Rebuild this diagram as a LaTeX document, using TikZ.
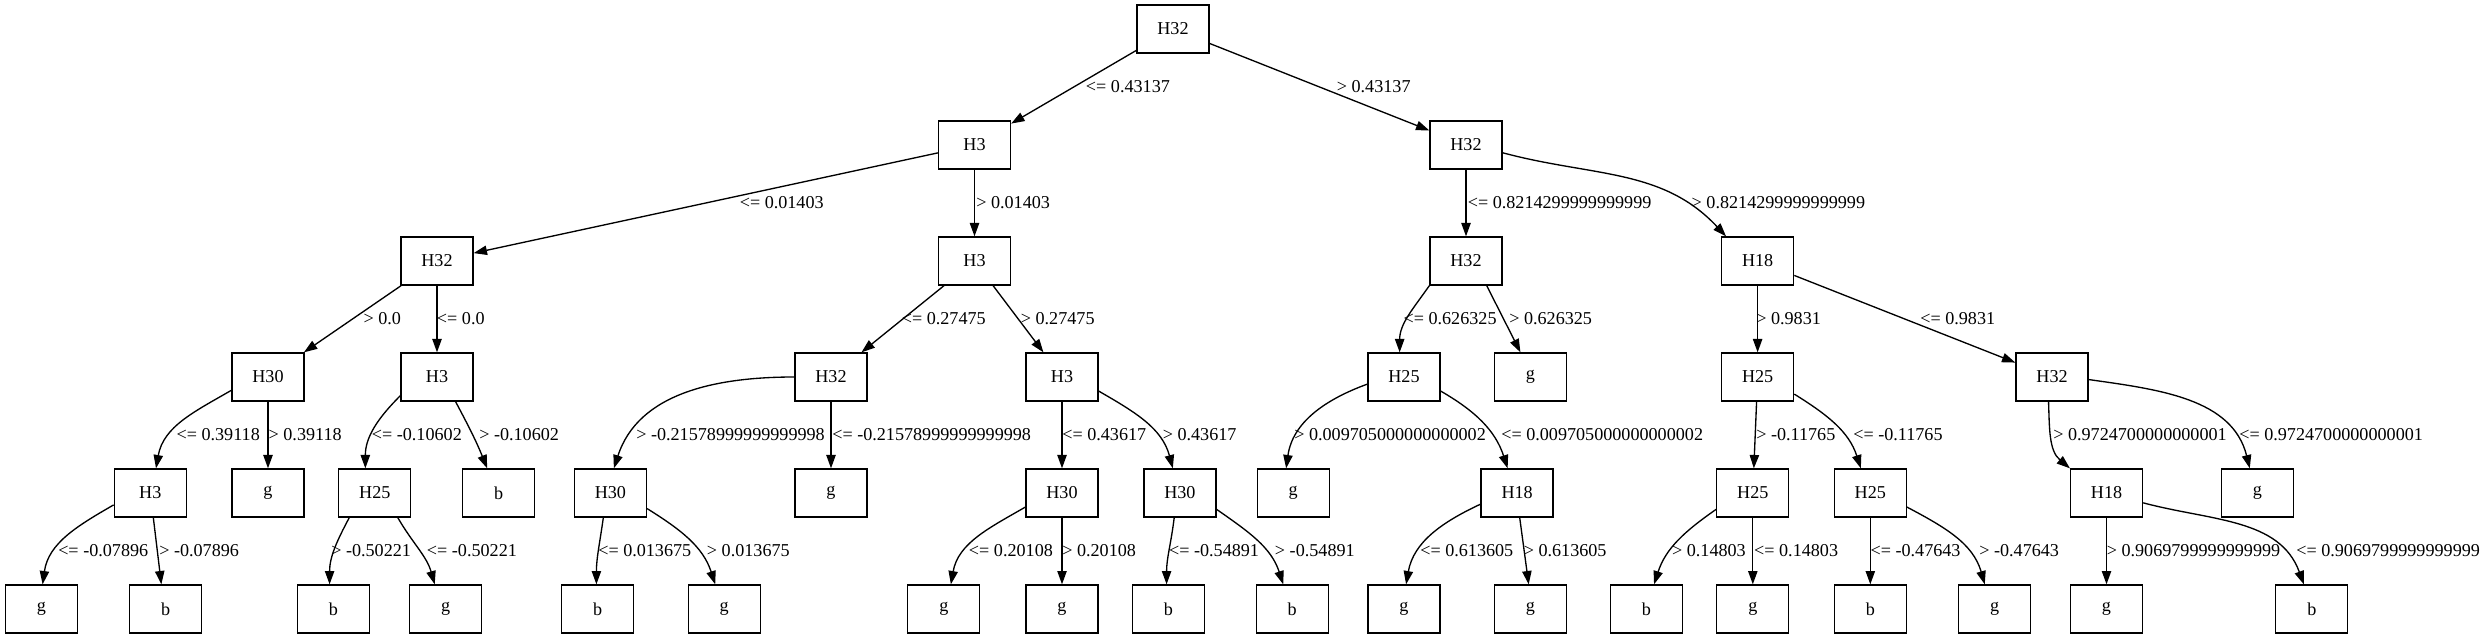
\documentclass[tikz,border=0pt]{standalone}
\usepackage{fontspec}
\setmainfont{Liberation Serif}
\usetikzlibrary{arrows.meta}
\begin{document}
\begin{tikzpicture}[x=0.75pt,y=0.75pt,
  tn/.style={draw,line width=1pt,minimum width=54pt,minimum height=36pt,inner sep=0pt,font=\fontsize{13.6}{16}\selectfont},
  lbl/.style={anchor=base west,inner sep=0pt,font=\fontsize{13.6}{16}\selectfont},
  ed/.style={draw,line width=1pt,-{Triangle[length=10pt,width=7pt]}}]
\useasboundingbox (0,0) rectangle (2487,639);
% row 0
\node[tn] (n0) at (1173,610) {H32};
% row 1
\node[tn] (n1) at (974.5,494) {H3};
\node[tn] (n2) at (1466,494) {H32};
% row 2
\node[tn] (n3) at (437,378) {H32};
\node[tn] (n4) at (974.5,378) {H3};
\node[tn] (n5) at (1466,378) {H32};
\node[tn] (n6) at (1757.6,378) {H18};
% row 3
\node[tn] (n7) at (268,262) {H30};
\node[tn] (n8) at (437,262) {H3};
\node[tn] (n9) at (831,262) {H32};
\node[tn] (n10) at (1062,262) {H3};
\node[tn] (n11) at (1404,262) {H25};
\node[tn] (n12) at (1530.4,262) {g};
\node[tn] (n13) at (1757.6,262) {H25};
\node[tn] (n14) at (2052,262) {H32};
% row 4
\node[tn] (n15) at (150.3,146) {H3};
\node[tn] (n16) at (268,146) {g};
\node[tn] (n17) at (374.8,146) {H25};
\node[tn] (n18) at (498.7,146) {b};
\node[tn] (n19) at (610.4,146) {H30};
\node[tn] (n20) at (831,146) {g};
\node[tn] (n21) at (1062,146) {H30};
\node[tn] (n22) at (1179.9,146) {H30};
\node[tn] (n23) at (1293.2,146) {g};
\node[tn] (n24) at (1517.1,146) {H18};
\node[tn] (n25) at (1752.8,146) {H25};
\node[tn] (n26) at (1870.3,146) {H25};
\node[tn] (n27) at (2106.5,146) {H18};
\node[tn] (n28) at (2257.3,146) {g};
% row 5
\node[tn] (n29) at (41.3,30) {g};
\node[tn] (n30) at (165.7,30) {b};
\node[tn] (n31) at (333.5,30) {b};
\node[tn] (n32) at (445.7,30) {g};
\node[tn] (n33) at (597.7,30) {b};
\node[tn] (n34) at (724.2,30) {g};
\node[tn] (n35) at (943.8,30) {g};
\node[tn] (n36) at (1062,30) {g};
\node[tn] (n37) at (1168.3,30) {b};
\node[tn] (n38) at (1292.2,30) {b};
\node[tn] (n39) at (1403.9,30) {g};
\node[tn] (n40) at (1530.4,30) {g};
\node[tn] (n41) at (1646.5,30) {b};
\node[tn] (n42) at (1752.8,30) {g};
\node[tn] (n43) at (1870.3,30) {b};
\node[tn] (n44) at (1994.7,30) {g};
\node[tn] (n45) at (2106.5,30) {g};
\node[tn] (n46) at (2311.8,30) {b};
% edges
\draw[ed] (n0) -- (n1);
\draw[ed] (n0) -- (n2);
\draw[ed] (n1) -- (n3);
\draw[ed] (n1) -- (n4);
\draw[ed] (n2) -- (n5);
\draw[ed] (n2.-12) to[out=-15,in=133] (n6.142);
\draw[ed] (n3) -- (n7);
\draw[ed] (n3) -- (n8);
\draw[ed] (n4) -- (n9);
\draw[ed] (n4) -- (n10);
\draw[ed] (n5.south west) to[out=-125,in=90] (n11.100);
\draw[ed] (n5.-50) -- (n12.112);
\draw[ed] (n6) -- (n13);
\draw[ed] (n6) -- (n14);
\draw[ed] (n7.-160) to[out=-150,in=80] (n15.77);
\draw[ed] (n7) -- (n16);
\draw[ed] (n8.-153) to[out=-135,in=90] (n17.111);
\draw[ed] (n8.-53) to[out=-62,in=112] (n18.115);
\draw[ed] (n9.west) to[out=180,in=72] (n19.82);
\draw[ed] (n9) -- (n20);
\draw[ed] (n10) -- (n21);
\draw[ed] (n10.-21) to[out=-30,in=105] (n22.106);
\draw[ed] (n11.-169) to[out=-160,in=82] (n23.106);
\draw[ed] (n11.-21) to[out=-30,in=108] (n24.111);
\draw[ed] (n13) -- (n25);
\draw[ed] (n13.-25) to[out=-32,in=108] (n26.111);
\draw[ed] (n14.-98) to[out=-88,in=140] (n27.146);
\draw[ed] (n14.-4) to[out=-8,in=104] (n28.107);
\draw[ed] (n15.-162) to[out=-150,in=82] (n29.87);
\draw[ed] (n15.-83) -- (n30.100);
\draw[ed] (n17.-136) to[out=-118,in=90] (n31.99);
\draw[ed] (n17.-47) to[out=-60,in=106] (n32.114);
\draw[ed] (n19.-106) to[out=-98,in=90] (n33.93);
\draw[ed] (n19.-23) to[out=-32,in=108] (n34.110);
\draw[ed] (n21.-159) to[out=-150,in=80] (n35.74);
\draw[ed] (n21) -- (n36);
\draw[ed] (n22.-103) to[out=-97,in=90] (n37.94);
\draw[ed] (n22.-24) to[out=-35,in=108] (n38.110);
\draw[ed] (n24.-163) to[out=-155,in=80] (n39.85);
\draw[ed] (n24.-84) -- (n40.94);
\draw[ed] (n25.-156) to[out=-145,in=72] (n41.73);
\draw[ed] (n25) -- (n42);
\draw[ed] (n26) -- (n43);
\draw[ed] (n26.-21) to[out=-28,in=106] (n44.112);
\draw[ed] (n27) -- (n45);
\draw[ed] (n27.-15) to[out=-15,in=110] (n46.108);
% labels row 0-1
\node[lbl] (l1) at (1085.7,546.5) {<= 0.43137};
\node[lbl] (l2) at (1336.6,546.5) {> 0.43137};
% row 1-2
\node[lbl] (l3) at (739.5,430.5) {<= 0.01403};
\node[lbl] (l4) at (976,430.5) {> 0.01403};
\node[lbl] (l5) at (1467.5,430.5) {<= 0.8214299999999999};
\node[lbl] (l6) at (1691.4,430.5) {> 0.8214299999999999};
% row 2-3
\node[lbl] (l7) at (363.3,314.5) {> 0.0};
\node[lbl] (l8) at (436.7,314.5) {<= 0.0};
\node[lbl] (l9) at (901.5,314.5) {<= 0.27475};
\node[lbl] (l10) at (1020.6,314.5) {> 0.27475};
\node[lbl] (l11) at (1403.3,314.5) {<= 0.626325};
\node[lbl] (l12) at (1509,314.5) {> 0.626325};
\node[lbl] (l13) at (1756,314.5) {> 0.9831};
\node[lbl] (l14) at (1920,314.5) {<= 0.9831};
% row 3-4
\node[lbl] (l15) at (176.3,198.5) {<= 0.39118};
\node[lbl] (l16) at (268.4,198.5) {> 0.39118};
\node[lbl] (l17) at (371.6,198.5) {<= -0.10602};
\node[lbl] (l18) at (479,198.5) {> -0.10602};
\node[lbl] (l19) at (636,198.5) {> -0.21578999999999998};
\node[lbl] (l20) at (832,198.5) {<= -0.21578999999999998};
\node[lbl] (l21) at (1062,198.5) {<= 0.43617};
\node[lbl] (l22) at (1162.5,198.5) {> 0.43617};
\node[lbl] (l23) at (1294,198.5) {> 0.009705000000000002};
\node[lbl] (l24) at (1501,198.5) {<= 0.009705000000000002};
\node[lbl] (l25) at (1756,198.5) {> -0.11765};
\node[lbl] (l26) at (1853,198.5) {<= -0.11765};
\node[lbl] (l27) at (2053,198.5) {> 0.9724700000000001};
\node[lbl] (l28) at (2239,198.5) {<= 0.9724700000000001};
% row 4-5
\node[lbl] (l29) at (58,82.5) {<= -0.07896};
\node[lbl] (l30) at (159,82.5) {> -0.07896};
\node[lbl] (l31) at (331,82.5) {> -0.50221};
\node[lbl] (l32) at (426.7,82.5) {<= -0.50221};
\node[lbl] (l33) at (598,82.5) {<= 0.013675};
\node[lbl] (l34) at (706.7,82.5) {> 0.013675};
\node[lbl] (l35) at (968.7,82.5) {<= 0.20108};
\node[lbl] (l36) at (1062,82.5) {> 0.20108};
\node[lbl] (l37) at (1168.8,82.5) {<= -0.54891};
\node[lbl] (l38) at (1274.7,82.5) {> -0.54891};
\node[lbl] (l39) at (1420,82.5) {<= 0.613605};
\node[lbl] (l40) at (1523.5,82.5) {> 0.613605};
\node[lbl] (l41) at (1671.8,82.5) {> 0.14803};
\node[lbl] (l42) at (1753.9,82.5) {<= 0.14803};
\node[lbl] (l43) at (1870.3,82.5) {<= -0.47643};
\node[lbl] (l44) at (1979,82.5) {> -0.47643};
\node[lbl] (l45) at (2106.5,82.5) {> 0.9069799999999999};
\node[lbl] (l46) at (2296,82.5) {<= 0.9069799999999999};
\end{tikzpicture}
\end{document}
